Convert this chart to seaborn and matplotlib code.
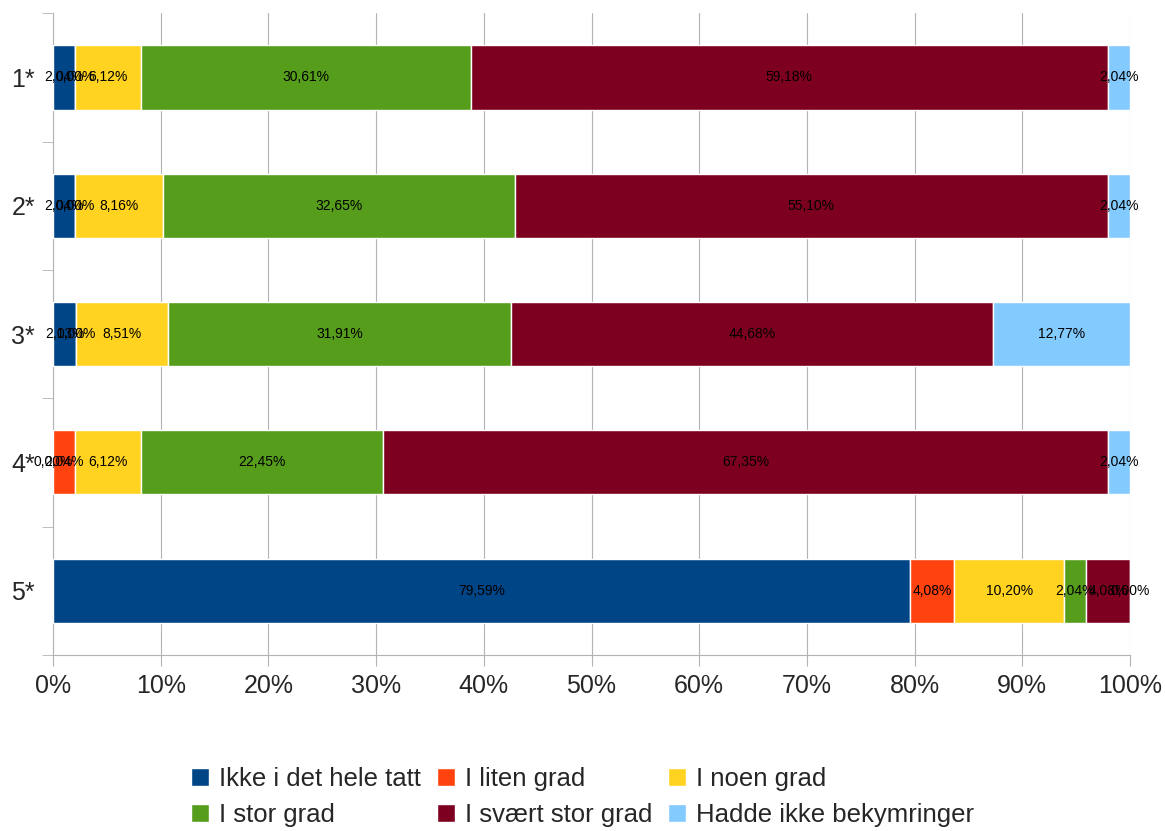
import matplotlib
matplotlib.use("Agg")
import matplotlib.pyplot as plt
import numpy as np
import pandas as pd
import seaborn as sns

categories = ['1*', '2*', '3*', '4*', '5*']
series = ['Ikke i det hele tatt', 'I liten grad', 'I noen grad',
          'I stor grad', 'I svært stor grad', 'Hadde ikke bekymringer']
ikke = [2.04, 2.04, 2.13, 0.00, 79.59]
liten = [0.00, 0.00, 0.00, 2.04, 4.08]
noen = [6.12, 8.16, 8.51, 6.12, 10.20]
stor = [30.61, 32.65, 31.91, 22.45, 2.04]
svaert = [59.18, 55.10, 44.68, 67.35, 4.08]
hadde = [2.04, 2.04, 12.77, 2.04, 0.00]
colors = ['#004586', '#ff420e', '#ffd320', '#579d1c', '#7e0021', '#83caff']

df = pd.DataFrame(dict(zip(series, [ikke, liten, noen, stor, svaert, hadde])),
                  index=categories)

sns.set_style("white")
plt.rcParams['font.family'] = ['Liberation Sans', 'DejaVu Sans']

fig = plt.figure(figsize=(11.65, 8.31), dpi=100)
ax = fig.add_axes([0.0455, 0.212, 0.9245, 0.772])

y = np.arange(len(categories))
left = np.zeros(len(categories))
handles = []
for s, c in zip(series, colors):
    vals = df[s].values
    bars = ax.barh(y, vals, left=left, height=0.5, color=c, label=s, zorder=3)
    handles.append(bars)
    for yi, l, v in zip(y, left, vals):
        ax.text(l + v / 2, yi, f'{v:.2f}%'.replace('.', ','),
                ha='center', va='center', fontsize=10, color='black', zorder=4)
    left += vals

ax.set_xlim(0, 100)
ax.set_ylim(len(categories) - 0.5, -0.5)
ax.set_xticks(np.arange(0, 101, 10))
ax.set_xticklabels([f'{v}%' for v in range(0, 101, 10)], fontsize=18)
ax.set_yticks(y)
ax.set_yticklabels(categories, fontsize=18)
ax.set_yticks(np.arange(-0.5, len(categories), 1), minor=True)
ax.tick_params(axis='y', which='major', length=0, pad=13)
ax.tick_params(axis='y', which='minor', length=8, color='#b3b3b3', direction='out', left=True)
ax.tick_params(axis='x', which='major', length=8, color='#b3b3b3', direction='out', bottom=True, pad=6)
ax.grid(axis='x', color='#b3b3b3', linewidth=0.8, zorder=0)
for side in ['top', 'right']:
    ax.spines[side].set_visible(False)
for side in ['left', 'bottom']:
    ax.spines[side].set_color('#b3b3b3')

order = [0, 3, 1, 4, 2, 5]
fig.legend([handles[i] for i in order], [series[i] for i in order],
           loc='center', bbox_to_anchor=(0.5, 0.041), ncol=3, frameon=False,
           fontsize=18.5, handlelength=0.7, handleheight=0.7,
           handletextpad=0.4, columnspacing=0.6, labelspacing=0.45)

fig.savefig('out.png', dpi=100)
